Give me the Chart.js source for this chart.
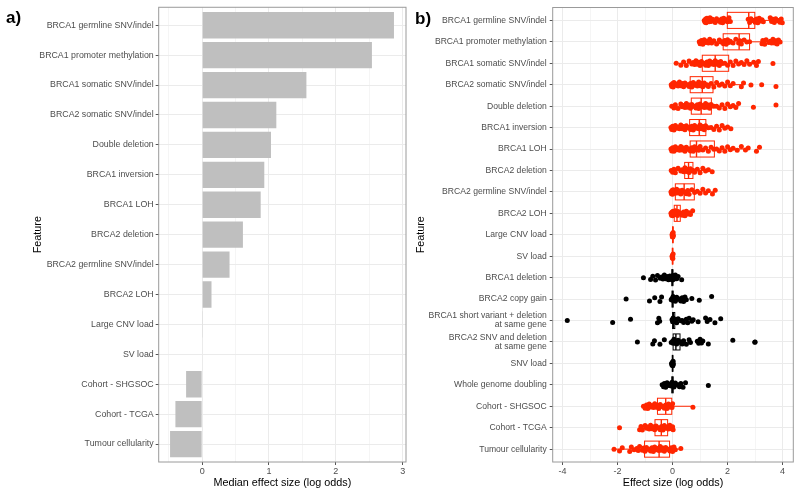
<!DOCTYPE html>
<html>
<head>
<meta charset="utf-8">
<script src="https://cdn.jsdelivr.net/npm/chart.js@4.4.1/dist/chart.umd.min.js"></script>
<style>
  html, body { margin: 0; padding: 0; background: #fff; }
  #wrap { position: relative; width: 800px; height: 496px; }
  #panelA { position: absolute; left: 0; top: 0; }
  #panelB { position: absolute; left: 410px; top: 0; }
</style>
</head>
<body>
<div id="wrap">
  <canvas id="panelA" width="410" height="496"></canvas>
  <canvas id="panelB" width="390" height="496"></canvas>
</div>
<script>
// ---- panel a: median effect size per feature ----
const featuresA = ["BRCA1 germline SNV/indel", "BRCA1 promoter methylation", "BRCA1 somatic SNV/indel",
  "BRCA2 somatic SNV/indel", "Double deletion", "BRCA1 inversion", "BRCA1 LOH", "BRCA2 deletion",
  "BRCA2 germline SNV/indel", "BRCA2 LOH", "Large CNV load", "SV load", "Cohort - SHGSOC",
  "Cohort - TCGA", "Tumour cellularity"];
const medianEffect = [2.87, 2.54, 1.56, 1.11, 1.03, 0.93, 0.876, 0.61, 0.41, 0.14, 0.005, 0, -0.24, -0.40, -0.48];
const xTicksA = [-0.5, 0, 0.5, 1, 1.5, 2, 2.5, 3];

// ---- panel b: effect size distribution per feature ----
const featuresB = ["BRCA1 germline SNV/indel", "BRCA1 promoter methylation", "BRCA1 somatic SNV/indel",
  "BRCA2 somatic SNV/indel", "Double deletion", "BRCA1 inversion", "BRCA1 LOH", "BRCA2 deletion",
  "BRCA2 germline SNV/indel", "BRCA2 LOH", "Large CNV load", "SV load", "BRCA1 deletion",
  "BRCA2 copy gain", "BRCA1 short variant + deletion\nat same gene", "BRCA2 SNV and deletion\nat same gene",
  "SNV load", "Whole genome doubling", "Cohort - SHGSOC", "Cohort - TCGA", "Tumour cellularity"];
const significant = [true, true, true, true, true, true, true, true, true, true, true, true,
  false, false, false, false, false, false, true, true, true];
const q1  = [1.99, 1.84, 1.08, 0.64, 0.68, 0.62, 0.64, 0.44, 0.10, 0.06, 0.00, -0.01, -0.03, -0.02, 0.00, 0.02, -0.01, -0.03, -0.55, -0.64, -1.02];
const med = [2.77, 2.42, 1.55, 1.08, 1.04, 0.97, 0.87, 0.58, 0.42, 0.16, 0.01, 0.00, 0.00, 0.00, 0.03, 0.12, 0.00, 0.00, -0.25, -0.41, -0.49];
const q3  = [2.99, 2.80, 2.04, 1.47, 1.41, 1.21, 1.52, 0.74, 0.79, 0.28, 0.02, 0.01, 0.01, 0.02, 0.08, 0.27, 0.01, 0.02, -0.03, -0.18, -0.11];
const whiskerLo = [1.15, 0.97, 0.13, -0.05, -0.03, -0.06, -0.06, -0.05, -0.06, -0.06, -0.02, -0.02, -0.03, -0.02, 0.00, 0.02, -0.01, -0.03, -1.06, -1.20, -2.13];
const whiskerHi = [3.99, 3.91, 3.12, 2.58, 2.40, 2.12, 2.75, 1.44, 1.55, 0.73, 0.03, 0.02, 0.01, 0.02, 0.08, 0.27, 0.01, 0.02, 0.74, 0.02, 0.30];
const samples = [
  [1.15,1.18,1.2,1.22,1.25,1.28,1.3,1.33,1.36,1.4,1.45,1.55,1.6,1.65,1.7,1.74,1.78,1.82,1.86,1.9,1.95,2.0,2.05,2.1,2.75,2.8,2.85,2.9,2.95,3.0,3.05,3.1,3.15,3.2,3.25,3.3,3.55,3.6,3.65,3.7,3.75,3.8,3.85,3.9,3.95,3.99],
  [0.97,1.0,1.05,1.1,1.15,1.2,1.25,1.3,1.35,1.42,1.5,1.6,1.7,1.75,1.8,1.85,1.9,1.95,2.0,2.05,2.1,2.2,2.3,2.4,2.45,2.5,2.6,2.7,2.8,3.25,3.28,3.35,3.4,3.5,3.55,3.6,3.65,3.7,3.75,3.8,3.85,3.91],
  [0.13,0.3,0.4,0.5,0.6,0.7,0.75,0.8,0.85,0.9,0.95,1.0,1.05,1.1,1.15,1.2,1.25,1.3,1.35,1.4,1.45,1.5,1.55,1.6,1.65,1.7,1.75,1.8,1.9,2.0,2.1,2.2,2.3,2.4,2.5,2.6,2.7,2.8,2.95,3.05,3.12,3.65],
  [-0.05,-0.03,0.0,0.02,0.05,0.1,0.15,0.2,0.25,0.3,0.35,0.4,0.45,0.5,0.55,0.6,0.65,0.7,0.75,0.8,0.85,0.9,0.95,1.0,1.05,1.1,1.15,1.2,1.25,1.3,1.4,1.5,1.6,1.7,1.8,1.9,2.0,2.1,2.2,2.5,2.58,2.85,3.24,3.76],
  [-0.03,0.05,0.1,0.2,0.3,0.35,0.4,0.45,0.5,0.55,0.6,0.65,0.7,0.75,0.8,0.85,0.9,0.95,1.0,1.05,1.1,1.15,1.2,1.25,1.3,1.35,1.4,1.5,1.6,1.7,1.8,1.9,2.0,2.1,2.2,2.3,2.4,2.94,3.76],
  [-0.06,-0.03,0.0,0.05,0.1,0.15,0.2,0.25,0.3,0.35,0.4,0.45,0.5,0.55,0.6,0.65,0.7,0.75,0.8,0.85,0.9,0.95,1.0,1.05,1.1,1.15,1.2,1.3,1.4,1.5,1.6,1.7,1.8,1.9,2.0,2.12],
  [-0.06,-0.03,0.0,0.05,0.1,0.15,0.2,0.25,0.3,0.35,0.4,0.45,0.5,0.55,0.6,0.65,0.7,0.75,0.8,0.85,0.9,0.95,1.0,1.1,1.2,1.3,1.4,1.5,1.6,1.7,1.8,1.9,2.0,2.1,2.2,2.35,2.5,2.65,2.75,3.05,3.16],
  [-0.05,0.0,0.05,0.1,0.2,0.3,0.35,0.4,0.45,0.5,0.55,0.6,0.65,0.7,0.75,0.8,0.9,1.0,1.1,1.2,1.3,1.44],
  [-0.06,-0.04,-0.02,0.0,0.02,0.05,0.08,0.1,0.15,0.2,0.25,0.3,0.35,0.4,0.45,0.5,0.55,0.6,0.7,0.8,0.9,1.0,1.1,1.2,1.3,1.45,1.55],
  [-0.06,-0.04,-0.02,0.0,0.02,0.04,0.06,0.08,0.1,0.12,0.15,0.18,0.2,0.25,0.3,0.35,0.4,0.45,0.5,0.55,0.6,0.65,0.73],
  [-0.02,-0.01,0.0,0.01,0.02,0.03,0.0,0.01],
  [-0.02,-0.01,0.0,0.01,0.02,0.0],
  [-1.06,-0.80,-0.72,-0.62,-0.55,-0.45,-0.4,-0.35,-0.3,-0.25,-0.2,-0.15,-0.1,-0.07,-0.05,-0.03,-0.01,0.0,0.01,0.02,0.04,0.06,0.1,0.15,0.2,0.33],
  [-1.69,-0.84,-0.65,-0.46,-0.40,-0.05,-0.02,0.0,0.02,0.05,0.08,0.1,0.15,0.2,0.25,0.3,0.35,0.4,0.45,0.5,0.7,0.97,1.42],
  [-3.83,-2.18,-1.53,-0.55,-0.5,-0.47,-0.02,0.0,0.02,0.05,0.1,0.15,0.2,0.3,0.35,0.4,0.5,0.55,0.6,0.7,0.75,0.93,1.2,1.26,1.36,1.54,1.75],
  [-1.28,-0.72,-0.66,-0.46,-0.30,-0.05,0.0,0.02,0.05,0.08,0.1,0.15,0.2,0.25,0.3,0.35,0.4,0.5,0.6,0.65,0.9,0.95,1.0,1.05,1.1,1.3,2.19,2.99,3.0],
  [-0.04,-0.02,0.0,0.01,0.02,0.03],
  [-0.38,-0.33,-0.3,-0.25,-0.2,-0.15,-0.1,-0.05,-0.02,0.0,0.02,0.05,0.1,0.15,0.2,0.25,0.3,0.38,0.47,1.3],
  [-1.06,-1.0,-0.95,-0.9,-0.85,-0.8,-0.75,-0.7,-0.65,-0.6,-0.55,-0.5,-0.45,-0.4,-0.35,-0.3,-0.25,-0.2,-0.15,-0.1,-0.05,-0.02,0.0,0.74],
  [-1.93,-1.2,-1.15,-1.1,-1.0,-0.95,-0.9,-0.85,-0.8,-0.75,-0.7,-0.65,-0.6,-0.55,-0.5,-0.45,-0.4,-0.35,-0.3,-0.25,-0.2,-0.15,-0.1,-0.05,0.0,0.02],
  [-2.13,-1.93,-1.83,-1.56,-1.5,-1.4,-1.3,-1.25,-1.2,-1.1,-1.05,-1.0,-0.95,-0.9,-0.85,-0.8,-0.75,-0.7,-0.65,-0.6,-0.55,-0.5,-0.45,-0.4,-0.35,-0.3,-0.25,-0.2,-0.15,-0.1,-0.05,0.0,0.05,0.1,0.30]
];
const xTicksB = [-4, -3, -2, -1, 0, 1, 2, 3, 4];

// vertical jitter for the points, in row units
const jitter = [0, 0.09, -0.06, 0.11, -0.1, 0.03, -0.03, 0.06, -0.12, 0.05, -0.05, 0.1, -0.08, 0.01];

const RED = "#FF2600";
const GRID = "#EBEBEB";
const TICK_TEXT = "#4D4D4D";
Chart.defaults.font.family = "'Liberation Sans', Arial, sans-serif";

const framePlugin = {
  id: "frame",
  afterDatasetsDraw(chart) {
    const { ctx, chartArea: a } = chart;
    ctx.save();
    ctx.strokeStyle = "#9A9A9A";
    ctx.lineWidth = 1;
    ctx.strokeRect(a.left, a.top, a.right - a.left, a.bottom - a.top);
    ctx.restore();
  }
};

const tagPlugin = {
  id: "tag",
  afterDraw(chart, args, opts) {
    const ctx = chart.ctx;
    ctx.save();
    ctx.font = "bold 17px 'Liberation Sans', Arial, sans-serif";
    ctx.fillStyle = "#000";
    ctx.textBaseline = "alphabetic";
    ctx.fillText(opts.text, opts.x, opts.y);
    ctx.restore();
  }
};

const boxPlugin = {
  id: "boxes",
  afterDatasetsDraw(chart) {
    const { ctx, scales: { x, y } } = chart;
    ctx.save();
    featuresB.forEach((f, i) => {
      const yc = y.getPixelForValue(i);
      const h = Math.abs(y.getPixelForValue(i + 0.375) - yc);
      const xl = x.getPixelForValue(q1[i]);
      const xm = x.getPixelForValue(med[i]);
      const xr = x.getPixelForValue(q3[i]);
      ctx.strokeStyle = significant[i] ? RED : "#000";
      ctx.lineWidth = 1;
      ctx.beginPath();
      ctx.moveTo(x.getPixelForValue(whiskerLo[i]), yc);
      ctx.lineTo(xl, yc);
      ctx.moveTo(xr, yc);
      ctx.lineTo(x.getPixelForValue(whiskerHi[i]), yc);
      ctx.stroke();
      ctx.strokeRect(xl, yc - h, xr - xl, 2 * h);
      ctx.lineWidth = 1.4;
      ctx.beginPath();
      ctx.moveTo(xm, yc - h);
      ctx.lineTo(xm, yc + h);
      ctx.stroke();
    });
    ctx.restore();
  }
};

const isInt = v => Math.abs(v - Math.round(v)) < 1e-9;

function xAxis(min, max, ticks, title, titlePad) {
  const major = v => ticks === xTicksA ? isInt(v) : Math.round(v) % 2 === 0;
  return {
    type: "linear", min: min, max: max,
    afterBuildTicks: s => { s.ticks = ticks.map(v => ({ value: v })); },
    afterFit: s => { s.height = 34; },
    ticks: {
      callback: v => major(v) ? String(Math.round(v)) : "",
      color: TICK_TEXT, font: { size: 9 }, padding: 1, maxRotation: 0, autoSkip: false
    },
    grid: {
      color: GRID,
      lineWidth: c => major(c.tick.value) ? 1 : 0.5,
      tickLength: 3,
      tickColor: c => major(c.tick.value) ? "#555" : "rgba(0,0,0,0)"
    },
    border: { display: false },
    title: { display: true, text: title, color: "#000", font: { size: 10.8 }, padding: { top: 0, bottom: titlePad } }
  };
}

// panel a
new Chart(document.getElementById("panelA"), {
  type: "bar",
  data: {
    datasets: [{
      data: medianEffect.map((v, i) => ({ x: v, y: i })),
      backgroundColor: "#BFBFBF",
      borderWidth: 0,
      barPercentage: 0.88,
      categoryPercentage: 1
    }]
  },
  options: {
    indexAxis: "y",
    responsive: false,
    animation: false,
    layout: { padding: { top: 6, right: 4, bottom: 0, left: 0 } },
    plugins: { legend: { display: false }, tooltip: { enabled: false }, tag: { text: "a)", x: 6, y: 23 } },
    scales: {
      x: xAxis(-0.65, 3.05, xTicksA, "Median effect size (log odds)", 6.5),
      y: {
        type: "linear", reverse: true, min: -0.6, max: 14.6, offset: false,
        afterBuildTicks: s => { s.ticks = featuresA.map((f, i) => ({ value: i })); },
        afterFit: s => { s.width = 158.7; },
        ticks: { callback: v => featuresA[v], color: TICK_TEXT, font: { size: 8.8 }, padding: 2, autoSkip: false },
        grid: { offset: false, color: GRID, lineWidth: 1, tickLength: 3, tickColor: "#555" },
        border: { display: false },
        title: { display: true, text: "Feature", color: "#000", font: { size: 10.8 }, padding: { top: 31.5, bottom: 0 } }
      }
    }
  },
  plugins: [framePlugin, tagPlugin]
});

// panel b
const pointSets = samples.map((vals, i) => ({
  data: vals.map((v, k) => ({ x: v, y: i + jitter[k % jitter.length] })),
  backgroundColor: significant[i] ? RED : "#000",
  borderWidth: 0,
  pointRadius: 2.5
}));

new Chart(document.getElementById("panelB"), {
  type: "scatter",
  data: { datasets: pointSets },
  options: {
    responsive: false,
    animation: false,
    layout: { padding: { top: 6, right: 6.7, bottom: 0, left: 0 } },
    plugins: { legend: { display: false }, tooltip: { enabled: false }, tag: { text: "b)", x: 5, y: 24 } },
    scales: {
      x: xAxis(-4.36, 4.39, xTicksB, "Effect size (log odds)", 6.5),
      y: {
        type: "linear", reverse: true, min: -0.6, max: 20.6,
        afterBuildTicks: s => { s.ticks = featuresB.map((f, i) => ({ value: i })); },
        afterFit: s => { s.width = 142.7; },
        ticks: { callback: v => featuresB[v].split("\n"), color: TICK_TEXT, font: { size: 8.6, lineHeight: 1.05 }, padding: 3, autoSkip: false },
        grid: { color: GRID, lineWidth: 1, tickLength: 3, tickColor: "#555" },
        border: { display: false },
        title: { display: true, text: "Feature", color: "#000", font: { size: 10.8 }, padding: { top: 4.2, bottom: 0 } }
      }
    }
  },
  plugins: [framePlugin, tagPlugin, boxPlugin]
});
</script>
</body>
</html>
